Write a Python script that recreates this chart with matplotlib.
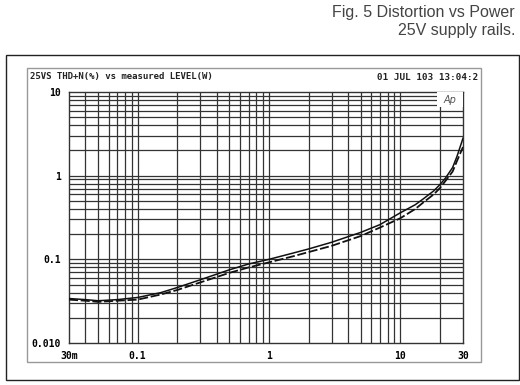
import matplotlib
matplotlib.use('Agg')
import matplotlib.pyplot as plt
from matplotlib.patches import Rectangle
from matplotlib.ticker import FixedLocator, NullFormatter

# power (W) and THD+N (%)
power = [0.03, 0.04, 0.05, 0.07, 0.1, 0.15, 0.2, 0.3, 0.5, 0.7, 1, 1.5, 2, 3, 5, 7,
         10, 13, 15, 18, 20, 22, 25, 27, 30]
thd_a = [0.034, 0.033, 0.032, 0.033, 0.035, 0.040, 0.046, 0.057, 0.075, 0.088, 0.100,
         0.118, 0.133, 0.160, 0.21, 0.26, 0.36, 0.45, 0.53, 0.66, 0.78, 0.93, 1.25, 1.7, 2.8]
thd_b = [0.033, 0.032, 0.031, 0.032, 0.033, 0.038, 0.043, 0.053, 0.069, 0.080, 0.092,
         0.108, 0.122, 0.145, 0.19, 0.24, 0.31, 0.40, 0.48, 0.60, 0.71, 0.86, 1.12, 1.5, 2.2]

xticks = [0.03, 0.1, 1, 10, 30]
xlabels = ['30m', '0.1', '1', '10', '30']
yticks = [0.01, 0.1, 1, 10]
ylabels = ['0.010', '0.1', '1', '10']

W, H = 520, 385
fig = plt.figure(figsize=(5.2, 3.85), dpi=100)

def px(x0, y0, x1, y1):
    return [x0 / W, 1 - y1 / H, (x1 - x0) / W, (y1 - y0) / H]

# frames
r = px(6, 55, 519, 380)
fig.patches.append(Rectangle((r[0], r[1]), r[2], r[3], transform=fig.transFigure,
                             fill=False, ec='#222222', lw=1.0))
r = px(27, 68, 481, 362)
fig.patches.append(Rectangle((r[0], r[1]), r[2], r[3], transform=fig.transFigure,
                             fill=False, ec='#999999', lw=1.0))

ax = fig.add_axes(px(69, 92, 463, 343))
ax.set_xscale('log')
ax.set_yscale('log')
ax.set_xlim(0.03, 30)
ax.set_ylim(0.01, 10)

minor_x = [v * 10 ** d for d in range(-2, 2) for v in range(2, 10)]
minor_x = [v for v in minor_x if 0.03 < v < 30]
minor_y = [v * 10 ** d for d in range(-2, 1) for v in range(2, 10)]
for v in minor_x + [0.1, 1, 10]:
    ax.axvline(v, color='#333333', lw=0.9, zorder=1)
for v in minor_y + [0.1, 1]:
    ax.axhline(v, color='#333333', lw=0.9, zorder=1)

ax.xaxis.set_major_locator(FixedLocator(xticks))
ax.xaxis.set_minor_locator(FixedLocator([]))
ax.yaxis.set_major_locator(FixedLocator(yticks))
ax.yaxis.set_minor_locator(FixedLocator([]))
ax.xaxis.set_minor_formatter(NullFormatter())
ax.yaxis.set_minor_formatter(NullFormatter())
ax.set_xticklabels(xlabels, fontsize=7, family='DejaVu Sans Mono', fontweight='bold')
ax.set_yticklabels(ylabels, fontsize=7, family='DejaVu Sans Mono', fontweight='bold')
ax.tick_params(length=0, pad=6)
for s in ax.spines.values():
    s.set_color('#333333')
    s.set_linewidth(1.0)

ax.plot(power, thd_a, color='#111111', lw=1.1, zorder=3)
ax.plot(power, thd_b, color='#111111', lw=1.3, dashes=(5, 1.5), zorder=3)

# Ap logo box
ax.add_patch(Rectangle((0.935, 0.94), 0.065, 0.06, transform=ax.transAxes,
                       fc='white', ec='none', zorder=4))
ax.text(0.968, 0.97, 'Ap', transform=ax.transAxes, fontsize=7, style='italic',
        color='#555555', ha='center', va='center', zorder=5)

fig.text(30 / W, 1 - 77 / H, '25VS THD+N(%) vs measured LEVEL(W)', fontsize=6.5,
         family='DejaVu Sans Mono', fontweight='bold', va='center', color='#222222')
fig.text(478 / W, 1 - 77 / H, '01 JUL 103 13:04:2', fontsize=6.7,
         family='DejaVu Sans Mono', fontweight='bold', va='center', ha='right', color='#222222')

fig.text(515 / W, 1 - 12 / H, 'Fig. 5 Distortion vs Power', fontsize=11.5,
         family='Liberation Sans', ha='right', va='center', color='#444444')
fig.text(515 / W, 1 - 31 / H, '25V supply rails.', fontsize=11.5,
         family='Liberation Sans', ha='right', va='center', color='#444444')

fig.savefig('out.png', dpi=100)
